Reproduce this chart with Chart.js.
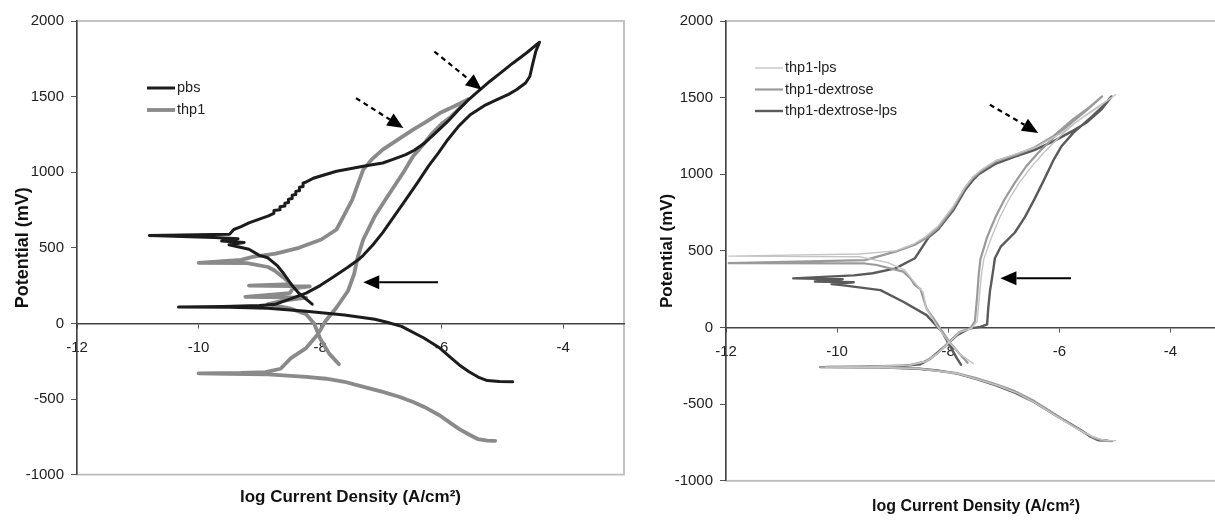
<!DOCTYPE html>
<html>
<head>
<meta charset="utf-8">
<script src="https://cdn.jsdelivr.net/npm/chart.js@4.4.0/dist/chart.umd.min.js"></script>
<style>
  html, body { margin: 0; padding: 0; background: #fff; overflow: hidden; width: 1215px; height: 522px; }
  .box { position: absolute; top: 0; height: 522px; }
  #left { left: 0; width: 640px; }
  #right { left: 640px; width: 592px; }
</style>
</head>
<body>
<div class="box" id="left"><canvas id="c1"></canvas></div>
<div class="box" id="right"><canvas id="c2"></canvas></div>
<script>
// axes
const xTicks = [-12, -10, -8, -6, -4];
const yTicks = [-1000, -500, 0, 500, 1000, 1500, 2000];
const xTitle = 'log Current Density (A/cm\u00B2)';
const yTitle = 'Potential (mV)';

// left panel: pbs
const pbsLogI = [-4.83,-5.05,-5.25,-5.40,-5.55,-5.71,-5.87,-6.03,-6.30,-6.66,-6.90,-7.10,-7.60,-8.23,-8.86,-9.49,-10.33,
  -9.60,-9.00,-8.73,-8.50,-8.23,-8.00,-7.79,-7.55,-7.35,-7.29,-7.13,-6.97,-6.78,-6.59,-6.40,-6.22,-6.05,-5.90,-5.72,-5.53,-5.30,-5.09,-4.90,-4.77,-4.62,-4.55,-4.50,-4.45,-4.39,
  -4.60,-4.83,-5.02,-5.21,-5.40,-5.56,-5.73,-5.90,-6.10,-6.28,-6.45,-6.59,-6.80,-6.97,-7.29,-7.73,-8.10,-8.23,
  -8.28,-8.28,-8.34,-8.34,-8.40,-8.40,-8.46,-8.46,-8.52,-8.52,-8.58,-8.58,-8.66,-8.66,-8.76,-8.76,-8.86,-9.00,-9.17,-9.30,-9.42,-9.49,
  -10.81,-9.74,-9.35,-9.62,-9.25,-9.50,-9.17,-9.00,-8.86,-8.70,-8.60,-8.48,-8.35,-8.13];
const pbsE = [-386,-385,-378,-355,-320,-275,-220,-163,-95,-20,8,27,55,80,100,107,108,
  112,118,127,160,200,250,306,370,428,450,520,600,710,819,930,1039,1130,1215,1305,1380,1440,1480,1515,1545,1590,1633,1720,1800,1860,
  1790,1721,1660,1600,1535,1479,1410,1336,1260,1193,1145,1116,1085,1061,1039,1006,962,935,
  928,905,900,878,873,852,847,826,821,800,795,776,771,752,747,728,709,690,665,640,621,590,
  582,568,560,545,535,520,490,450,434,380,330,261,200,127];

// left panel: thp1
const thp1LogI = [-5.12,-5.25,-5.40,-5.55,-5.71,-5.87,-6.03,-6.25,-6.47,-6.70,-6.97,-7.30,-7.60,-7.90,-8.23,-8.86,-9.50,-10.00,
  -9.30,-8.90,-8.65,-8.48,-8.23,-8.04,-7.91,-7.73,-7.54,-7.44,-7.38,-7.29,-7.10,-6.94,-6.78,-6.62,-6.47,-6.30,-6.15,-6.00,-5.84,-5.70,-5.56,
  -5.80,-6.03,-6.25,-6.47,-6.72,-6.97,-7.15,-7.29,-7.38,-7.47,-7.60,-7.73,-7.98,-8.35,-8.73,-9.11,-9.30,-10.00,-9.20,-8.86,-8.75,-8.61,-8.48,
  -9.17,-8.17,-8.45,-8.50,-9.23,-8.23,-8.60,-8.86,-8.50,-8.23,-8.10,-8.00,-7.85,-7.69];
const thp1E = [-777,-775,-766,-735,-699,-655,-609,-560,-520,-485,-453,-418,-386,-366,-353,-337,-333,-330,
  -328,-322,-300,-230,-163,-74,16,105,216,328,440,555,709,810,907,1005,1105,1185,1259,1320,1369,1425,1483,
  1435,1391,1335,1281,1215,1149,1085,1017,920,819,720,621,555,500,462,440,420,400,398,373,350,306,260,
  250,245,230,200,175,170,150,127,100,60,0,-100,-200,-270];

// right panel: thp1-lps
const lpsLogI = [-4.99,-5.15,-5.35,-5.55,-5.75,-6.05,-6.40,-6.75,-7.10,-7.50,-7.84,-8.53,-9.22,-10.30,
  -9.40,-8.70,-8.40,-8.20,-8.00,-7.80,-7.58,-7.48,-7.44,-7.40,-7.36,-7.22,-7.06,-6.90,-6.72,-6.50,-6.28,-6.00,-5.70,-5.35,-4.99,
  -5.25,-5.60,-6.00,-6.40,-6.80,-7.14,-7.40,-7.55,-7.70,-7.92,-8.20,-8.42,-8.62,-8.95,-9.60,-11.95,
  -9.60,-9.10,-8.78,-8.62,-8.55,-8.45,-8.40,-8.22,-8.00,-7.80,-7.55];
const lpsE = [-738,-738,-720,-685,-645,-580,-500,-430,-380,-335,-300,-268,-261,-258,
  -255,-245,-222,-172,-102,-32,-5,40,200,350,446,590,728,840,945,1050,1140,1245,1340,1430,1519,
  1450,1365,1262,1180,1130,1090,1030,985,915,785,655,590,545,500,480,466,
  462,425,375,300,270,230,130,20,-90,-170,-235];

// right panel: thp1-dextrose
const dexLogI = [-5.05,-5.20,-5.40,-5.60,-5.80,-6.10,-6.45,-6.80,-7.14,-7.50,-7.84,-8.53,-9.22,-10.20,
  -9.40,-8.70,-8.40,-8.20,-8.00,-7.80,-7.60,-7.52,-7.48,-7.45,-7.42,-7.30,-7.14,-6.98,-6.80,-6.60,-6.38,-6.10,-5.80,-5.50,-5.23,
  -5.45,-5.75,-6.10,-6.45,-6.80,-7.14,-7.42,-7.56,-7.70,-7.91,-8.18,-8.39,-8.60,-8.95,-9.50,-11.95,
  -9.50,-9.29,-8.81,-8.68,-8.60,-8.50,-8.39,-8.18,-7.98,-7.80,-7.65];
const dexE = [-742,-740,-715,-675,-630,-560,-480,-415,-370,-330,-298,-268,-260,-257,
  -255,-245,-220,-170,-100,-30,-5,40,200,350,446,590,728,840,945,1050,1140,1240,1330,1420,1508,
  1440,1360,1250,1175,1125,1085,1020,975,910,780,650,585,540,495,440,420,
  418,408,365,320,277,250,124,15,-94,-170,-230];

// right panel: thp1-dextrose-lps
const dexLpsLogI = [-5.13,-5.30,-5.45,-5.60,-5.75,-6.10,-6.45,-6.80,-7.14,-7.50,-7.84,-8.20,-8.53,-9.22,-10.30,
  -9.50,-8.80,-8.50,-8.32,-8.15,-8.04,-7.84,-7.63,-7.42,-7.30,-7.28,-7.25,-7.20,-7.16,-7.05,-6.80,-6.62,-6.45,-6.28,-6.10,-5.96,-5.75,-5.41,-5.20,-5.06,
  -5.25,-5.50,-5.75,-6.10,-6.45,-6.80,-7.14,-7.45,-7.56,-7.70,-7.91,-8.18,-8.35,-8.53,-8.60,-8.95,-9.36,-9.70,
  -10.79,-9.90,-10.40,-9.70,-10.10,-9.92,-9.22,-8.81,-8.39,-8.11,-7.84,-7.77];
const dexLpsE = [-738,-735,-710,-672,-640,-565,-487,-425,-378,-335,-301,-280,-269,-260,-258,
  -255,-250,-240,-203,-150,-116,-50,-7,4,20,124,234,350,452,530,620,720,836,960,1096,1183,1270,1378,1450,1508,
  1420,1340,1285,1216,1158,1115,1070,1000,960,895,765,641,590,490,452,386,354,340,
  321,315,300,295,283,277,244,168,81,-28,-203,-242];

// annotation arrows (data coordinates)
const leftArrows = [
  { from: [-6.12, 1798], to: [-5.34, 1545], dashed: true },
  { from: [-7.41, 1490], to: [-6.63, 1292], dashed: true },
  { from: [-6.06, 272], to: [-7.29, 272], dashed: false }
];
const rightArrows = [
  { from: [-7.25, 1454], to: [-6.38, 1270], dashed: true },
  { from: [-5.79, 321], to: [-7.06, 321], dashed: false }
];

const FONT = "'Liberation Sans', Arial, sans-serif";
Chart.defaults.font.family = FONT;

function pts(xs, ys) { return xs.map((x, i) => ({ x: x, y: ys[i] })); }

function line(label, xs, ys, color, width) {
  return { label: label, data: pts(xs, ys), showLine: true, borderColor: color, backgroundColor: color,
    borderWidth: width, pointRadius: 0, tension: 0, borderJoinStyle: 'round', borderCapStyle: 'round' };
}

const framePlugin = {
  id: 'frame',
  beforeDraw(chart) {
    const { ctx, chartArea: a } = chart;
    ctx.save();
    ctx.strokeStyle = '#bdbdbd';
    ctx.lineWidth = 1.8;
    ctx.strokeRect(a.left, a.top, a.right - a.left, a.bottom - a.top);
    ctx.restore();
  }
};

const extrasPlugin = {
  id: 'extras',
  afterDatasetsDraw(chart, args, opts) {
    const { ctx, scales: { x, y } } = chart;
    ctx.save();
    (opts.arrows || []).forEach(ar => {
      const x1 = x.getPixelForValue(ar.from[0]), y1 = y.getPixelForValue(ar.from[1]);
      const x2 = x.getPixelForValue(ar.to[0]), y2 = y.getPixelForValue(ar.to[1]);
      const ang = Math.atan2(y2 - y1, x2 - x1);
      const hl = 16, hw = 7;
      const bx = x2 - hl * Math.cos(ang), by = y2 - hl * Math.sin(ang);
      ctx.strokeStyle = '#000';
      ctx.fillStyle = '#000';
      ctx.lineWidth = ar.dashed ? 2.2 : 2;
      ctx.setLineDash(ar.dashed ? [5, 4] : []);
      ctx.beginPath();
      ctx.moveTo(x1, y1);
      ctx.lineTo(bx, by);
      ctx.stroke();
      ctx.setLineDash([]);
      ctx.beginPath();
      ctx.moveTo(x2, y2);
      ctx.lineTo(bx + hw * Math.sin(ang), by - hw * Math.cos(ang));
      ctx.lineTo(bx - hw * Math.sin(ang), by + hw * Math.cos(ang));
      ctx.closePath();
      ctx.fill();
    });
    // legend
    const lg = opts.legend;
    ctx.font = '14.5px ' + FONT;
    ctx.textBaseline = 'middle';
    ctx.textAlign = 'left';
    chart.data.datasets.forEach((ds, i) => {
      const ly = chart.chartArea.top + lg.top + i * lg.step;
      const lx = chart.chartArea.left + lg.left;
      ctx.strokeStyle = ds.borderColor;
      ctx.lineWidth = ds.borderWidth;
      ctx.beginPath();
      ctx.moveTo(lx, ly);
      ctx.lineTo(lx + 28, ly);
      ctx.stroke();
      ctx.fillStyle = '#222';
      ctx.fillText(ds.label, lx + 30, ly);
    });
    ctx.restore();
  }
};

function makeChart(id, datasets, cfg) {
  return new Chart(document.getElementById(id), {
    type: 'scatter',
    data: { datasets: datasets },
    options: {
      responsive: true, maintainAspectRatio: false, animation: false,
      layout: { padding: { top: 21, right: cfg.padRight, left: 0, bottom: 0 } },
      plugins: {
        legend: { display: false },
        tooltip: { enabled: false },
        title: { display: true, text: xTitle, position: 'bottom', fullSize: false, color: '#111',
          font: { size: cfg.titleSize, weight: 'bold' }, padding: cfg.titlePad },
        extras: { arrows: cfg.arrows, legend: cfg.legend }
      },
      scales: {
        x: {
          type: 'linear', position: { y: 0 }, min: -12, max: -3,
          afterBuildTicks: s => { s.ticks = xTicks.map(v => ({ value: v })); },
          ticks: { color: '#222', font: { size: 15 }, padding: 11, maxRotation: 0, callback: v => String(v) },
          grid: { drawOnChartArea: false, tickLength: 4, color: '#555' },
          border: { color: '#444', width: 1.5 }
        },
        y: {
          min: -1000, max: 2000,
          afterBuildTicks: s => { s.ticks = yTicks.map(v => ({ value: v })); },
          afterFit: s => { s.width = cfg.yWidth; },
          ticks: { color: '#222', font: { size: 15 }, padding: 7, callback: v => String(v) },
          grid: { drawOnChartArea: false, tickLength: 6, color: '#555' },
          border: { color: '#444', width: 1.5 },
          title: { display: true, text: yTitle, color: '#111', font: { size: cfg.yTitleSize, weight: 'bold' },
            padding: { top: cfg.yTitlePad, bottom: 0 } }
        }
      }
    },
    plugins: [framePlugin, extrasPlugin]
  });
}

makeChart('c1', [
  line('pbs', pbsLogI, pbsE, '#1c1c1c', 3),
  line('thp1', thp1LogI, thp1E, '#8a8a8a', 3.8)
], { yWidth: 77, titleSize: 17, titlePad: { top: 13, bottom: 14 }, yTitleSize: 18, yTitlePad: 12, padRight: 16,
     arrows: leftArrows, legend: { left: 70, top: 67, step: 22 } });

makeChart('c2', [
  line('thp1-lps', lpsLogI, lpsE, '#c4c4c4', 1.4),
  line('thp1-dextrose', dexLogI, dexE, '#9a9a9a', 2.2),
  line('thp1-dextrose-lps', dexLpsLogI, dexLpsE, '#5a5a5a', 2.4)
], { yWidth: 86, titleSize: 16, titlePad: { top: 16, bottom: 6 }, yTitleSize: 17, yTitlePad: 17, padRight: 6,
     arrows: rightArrows, legend: { left: 29, top: 47, step: 21.5 } });
</script>
</body>
</html>
